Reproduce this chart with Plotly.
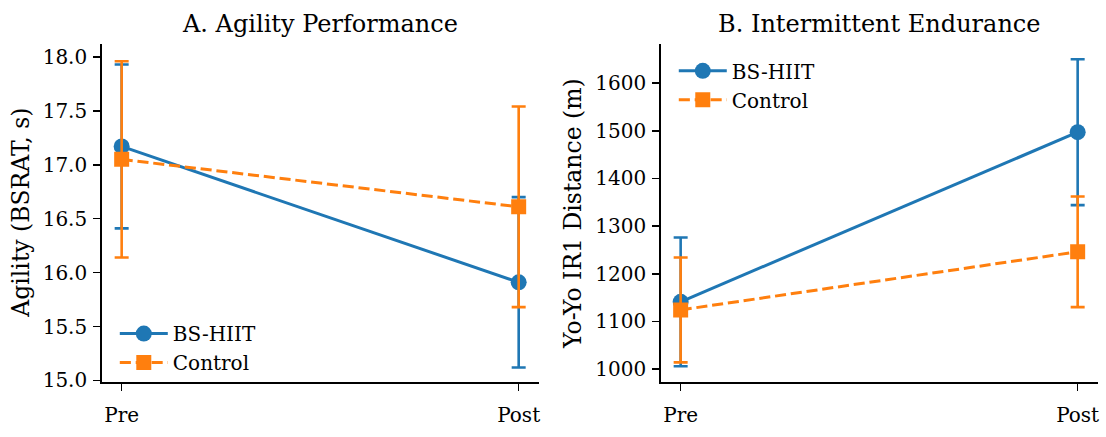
import plotly.graph_objects as go

# ---- data ----
timepoints = ["Pre", "Post"]
groups = ["BS-HIIT", "Control"]

agility_mean = {"BS-HIIT": [17.17, 15.91], "Control": [17.05, 16.61]}
agility_sd = {"BS-HIIT": [0.76, 0.79], "Control": [0.91, 0.93]}

yoyo_mean = {"BS-HIIT": [1141, 1497], "Control": [1124, 1246]}
yoyo_sd = {"BS-HIIT": [135, 153], "Control": [110, 116]}

titles = ["A. Agility Performance", "B. Intermittent Endurance"]
ylabels = ["Agility (BSRAT, s)", "Yo-Yo IR1 Distance (m)"]

# ---- styles ----
W, H = 1106, 437
FONT = "DejaVu Serif"
FS = 20
colors = {"BS-HIIT": "#1f77b4", "Control": "#ff7f0e"}
symbols = {"BS-HIIT": "circle", "Control": "square"}
msize = {"BS-HIIT": 16, "Control": 15}
dashes = {"BS-HIIT": "solid", "Control": "11.1px,4.8px"}

xpos = list(range(len(timepoints)))

fig = go.Figure()

panels = [(agility_mean, agility_sd, "x", "y", "legend"),
          (yoyo_mean, yoyo_sd, "x2", "y2", "legend2")]
for mean, sd, xa, ya, leg in panels:
    for g in groups:
        fig.add_trace(go.Scatter(
            x=xpos, y=mean[g], name=g, mode="lines+markers",
            xaxis=xa, yaxis=ya, legend=leg, legendgroup=g + leg,
            line=dict(color=colors[g], width=3, dash=dashes[g]),
            marker=dict(symbol=symbols[g], size=msize[g], color=colors[g], line=dict(width=0)),
            error_y=dict(type="data", array=sd[g], visible=True, color=colors[g],
                         thickness=2.6, width=7),
            hoverinfo="skip",
        ))

def px_x(v):
    return v / W

def px_y(v):
    return 1 - v / H

axis_common = dict(
    showline=True, linecolor="black", linewidth=1.6, mirror=False,
    ticks="outside", ticklen=7, tickwidth=1.6, tickcolor="black",
    showgrid=False, zeroline=False,
    tickfont=dict(family=FONT, size=FS, color="black"),
)

dom_y = [px_y(391), px_y(45)]
legend_common = dict(bgcolor="rgba(0,0,0,0)", itemwidth=48, traceorder="grouped",
                     tracegroupgap=0, font=dict(family=FONT, size=FS, color="black"))
fig.update_layout(
    width=W, height=H,
    margin=dict(l=0, r=0, t=0, b=0),
    paper_bgcolor="white", plot_bgcolor="white",
    font=dict(family=FONT, size=FS, color="black"),
    xaxis=dict(domain=[px_x(102), px_x(539.5)], range=[-0.05, 1.05],
               tickvals=xpos, ticktext=timepoints, anchor="y", ticklabelstandoff=7, **axis_common),
    yaxis=dict(domain=dom_y, range=[14.985, 18.12], tickvals=[15.0, 15.5, 16.0, 16.5, 17.0, 17.5, 18.0],
               tickformat=".1f", anchor="x", ticklabelstandoff=2, **axis_common),
    xaxis2=dict(domain=[px_x(662), px_x(1099.5)], range=[-0.05, 1.05],
                tickvals=xpos, ticktext=timepoints, anchor="y2", ticklabelstandoff=7, **axis_common),
    yaxis2=dict(domain=dom_y, range=[972.7, 1682], tickvals=[1000, 1100, 1200, 1300, 1400, 1500, 1600],
                anchor="x2", ticklabelstandoff=2, **axis_common),
    legend=dict(x=px_x(115), y=px_y(391), xanchor="left", yanchor="bottom", **legend_common),
    legend2=dict(x=px_x(675), y=px_y(52.5), xanchor="left", yanchor="top", **legend_common),
    showlegend=True,
)

# subplot titles
for cx, t in [((102 + 539.5) / 2, titles[0]), ((662 + 1099.5) / 2, titles[1])]:
    fig.add_annotation(text=t, x=px_x(cx), y=px_y(25), xref="paper", yref="paper",
                       xanchor="center", yanchor="middle", showarrow=False,
                       font=dict(family=FONT, size=24, color="black"))
# y-axis labels
for cx, t in [(20.7, ylabels[0]), (574, ylabels[1])]:
    fig.add_annotation(text=t, x=px_x(cx), y=px_y(218), xref="paper", yref="paper",
                       xanchor="center", yanchor="middle", showarrow=False, textangle=-90,
                       font=dict(family=FONT, size=23.5, color="black"))

fig.write_html("out.html",
               config={"displayModeBar": False, "staticPlot": True},
               post_script="document.body.style.margin='0px';document.body.style.overflow='hidden';")
